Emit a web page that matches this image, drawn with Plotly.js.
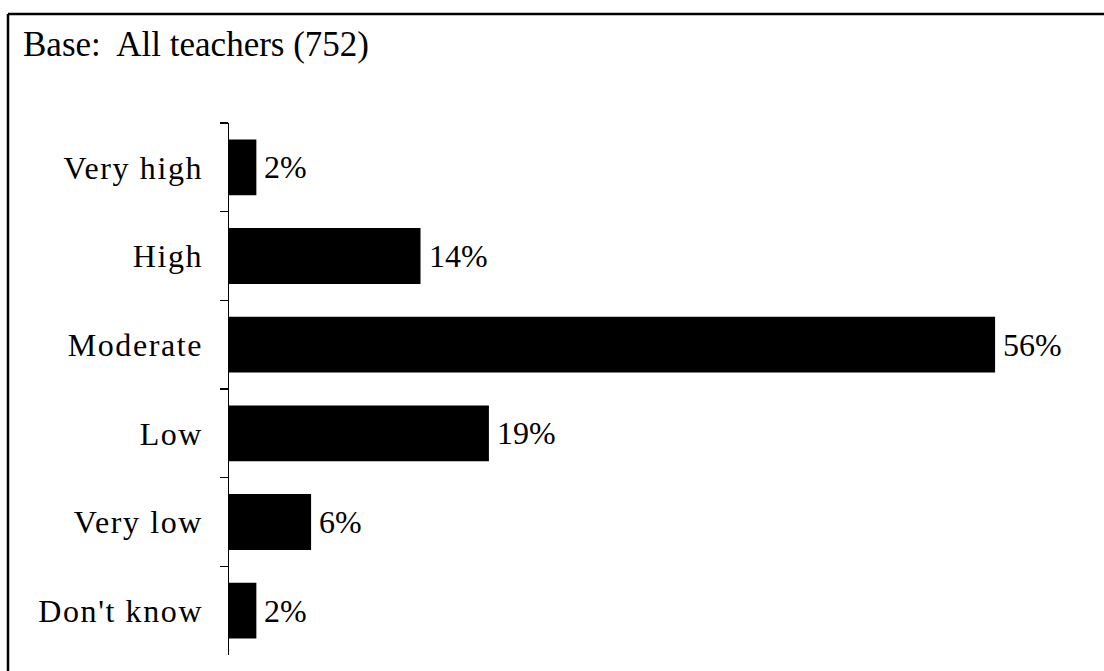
<!DOCTYPE html>
<html>
<head>
<meta charset="utf-8">
<script src="https://cdn.plot.ly/plotly-3.0.1.min.js"></script>
<style>
html,body{margin:0;padding:0;background:#fff;overflow:hidden;}
#chart{width:1104px;height:671px;}
.ytick text{letter-spacing:1.6px;}
</style>
</head>
<body>
<div id="chart"></div>
<script>
const categories = ["Very high", "High", "Moderate", "Low", "Very low", "Don't know"];
const values = [2, 14, 56, 19, 6, 2];
const valueLabels = ["2%", "14%", "56%", "19%", "6%", "2%"];
const titleText = "Base:  All teachers (752)";

const W = 1104, H = 671;
const m = {l: 229, r: 14, t: 123, b: 16};
const pw = W - m.l - m.r, ph = H - m.t - m.b;
const font = '"Liberation Serif", "Times New Roman", serif';

const trace = {
  type: 'bar',
  orientation: 'h',
  x: values,
  y: categories,
  width: 0.63,
  marker: {color: '#000', line: {width: 0}},
  hoverinfo: 'none'
};

const annotations = categories.map((c, i) => ({
  x: values[i], y: c, xref: 'x', yref: 'y',
  text: valueLabels[i], showarrow: false,
  xanchor: 'left', yanchor: 'middle', xshift: 6,
  font: {family: font, size: 32, color: '#000'}
}));

// frame: left and top edges (right/bottom lie outside the picture)
const fx0 = (8 - m.l) / pw, fx1 = (W - m.l) / pw;
const fy0 = (H - m.b - H) / ph, fy1 = (H - m.b - 14) / ph;

const layout = {
  width: W, height: H,
  margin: m,
  paper_bgcolor: '#fff', plot_bgcolor: '#fff',
  showlegend: false,
  font: {family: font, color: '#000'},
  title: {
    text: titleText,
    font: {family: font, size: 35, color: '#000'},
    xref: 'container', yref: 'container',
    x: 23 / W, xanchor: 'left',
    y: 1 - 31 / H, yanchor: 'top'
  },
  xaxis: {
    range: [0, pw / 13.68],
    visible: false, fixedrange: true
  },
  yaxis: {
    type: 'category',
    categoryorder: 'array', categoryarray: categories,
    range: [5.5, -0.5],
    showline: true, linecolor: '#000', linewidth: 1.5,
    ticks: 'outside', tickson: 'boundaries', ticklen: 8, tickwidth: 1.5, tickcolor: '#000',
    showgrid: false, zeroline: false,
    tickfont: {family: font, size: 32, color: '#000'},
    ticklabelstandoff: 18,
    fixedrange: true
  },
  annotations: annotations,
  shapes: [
    {type: 'line', xref: 'paper', yref: 'paper', x0: fx0, x1: fx0, y0: fy0, y1: fy1,
     line: {color: '#000', width: 2.5}},
    {type: 'line', xref: 'paper', yref: 'paper', x0: fx0, x1: fx1, y0: fy1, y1: fy1,
     line: {color: '#000', width: 2.5}}
  ]
};

Plotly.newPlot('chart', [trace], layout, {displayModeBar: false, staticPlot: true});
</script>
</body>
</html>
